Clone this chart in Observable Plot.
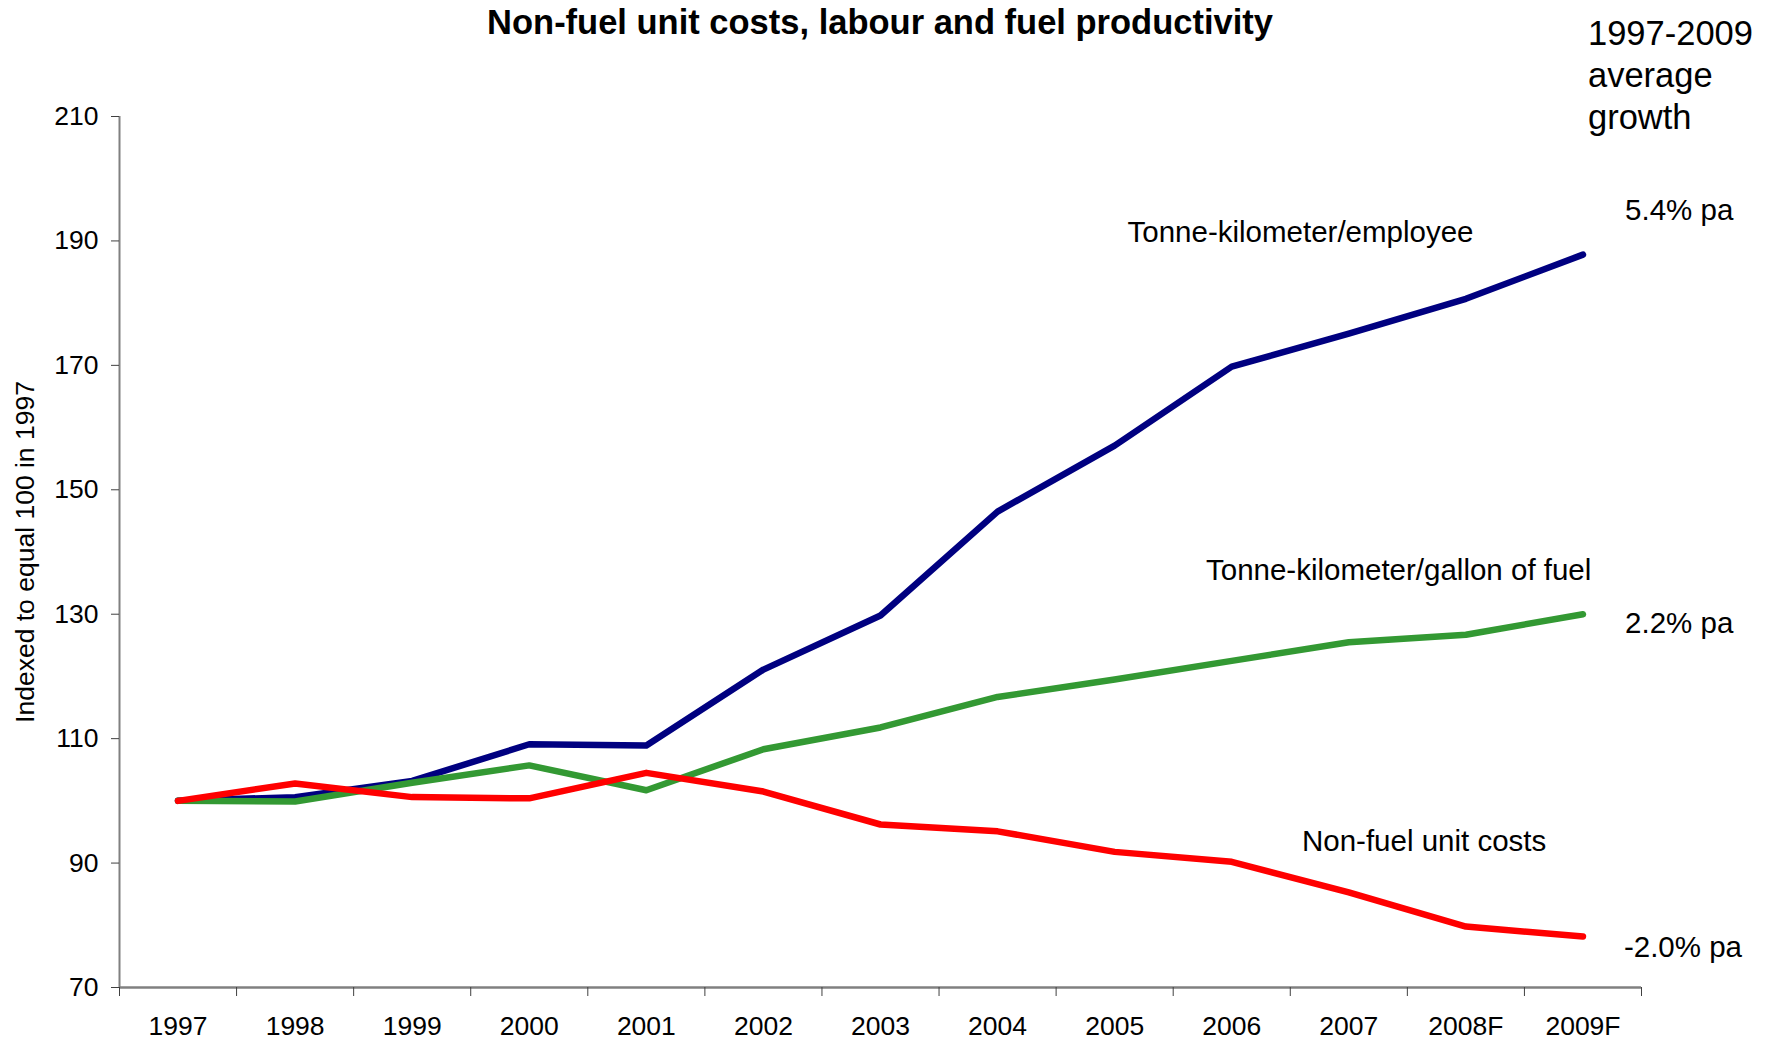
<!DOCTYPE html>
<html>
<head>
<meta charset="utf-8">
<script src="https://cdn.jsdelivr.net/npm/d3@7"></script>
<script src="https://cdn.jsdelivr.net/npm/@observablehq/plot@0.6"></script>
<style>
  html, body { margin: 0; padding: 0; background: #fff; }
  #wrap { position: relative; width: 1772px; height: 1041px; font-family: "Liberation Sans", Arial, sans-serif; }
  #title { position: absolute; left: 880px; top: 2px; transform: translateX(-50%); white-space: nowrap;
           font-size: 34.5px; font-weight: bold; line-height: 40px; color: #000; }
  #note { position: absolute; left: 1588px; top: 12px; font-size: 34.5px; line-height: 42px; color: #000; }
  #chart { position: absolute; left: 0; top: 0; }
</style>
</head>
<body>
<div id="wrap">
  <div id="chart"></div>
  <div id="title"></div>
  <div id="note"></div>
</div>
<script>
// ---- Data ----
const years = ["1997","1998","1999","2000","2001","2002","2003","2004","2005","2006","2007","2008F","2009F"];
const tkmPerEmployee = [100, 100.6, 103.2, 109.1, 108.9, 121.1, 129.8, 146.5, 157.1, 169.8, 175.1, 180.7, 187.8];
const tkmPerGallon   = [100, 99.9, 102.9, 105.7, 101.7, 108.3, 111.8, 116.7, 119.5, 122.5, 125.5, 126.7, 130.0];
const nonFuelCosts   = [100, 102.8, 100.6, 100.4, 104.5, 101.5, 96.2, 95.1, 91.8, 90.2, 85.3, 79.8, 78.2];

const seriesNames  = ["Tonne-kilometer/employee", "Tonne-kilometer/gallon of fuel", "Non-fuel unit costs"];
const seriesColors = ["#000080", "#339933", "#FF0000"];
const yTicks = [70, 90, 110, 130, 150, 170, 190, 210];

const titleText = "Non-fuel unit costs, labour and fuel productivity";
const noteLines = ["1997-2009", "average", "growth"];
const yLabel = "Indexed to equal 100 in 1997";

// Annotations (text, x in category-index units, y in index value)
const seriesLabels = [
  {text: "Tonne-kilometer/employee", x: 8.61, y: 191.4},
  {text: "Tonne-kilometer/gallon of fuel", x: 9.28, y: 137.0},
  {text: "Non-fuel unit costs", x: 10.10, y: 93.4}
];
const growthLabels = [
  {text: "5.4% pa", x: 12.86, y: 194.9},
  {text: "2.2% pa", x: 12.86, y: 128.5},
  {text: "-2.0% pa", x: 12.85, y: 76.4}
];

// ---- Build table ----
const allSeries = [tkmPerEmployee, tkmPerGallon, nonFuelCosts];
const rows = [];
allSeries.forEach((vals, s) => vals.forEach((v, i) => rows.push({series: seriesNames[s], i, year: years[i], value: v})));

const font = '"Liberation Sans", Arial, sans-serif';

const chart = Plot.plot({
  width: 1772,
  height: 1041,
  marginLeft: 119,
  marginRight: 131,
  marginTop: 116,
  marginBottom: 54,
  style: {fontFamily: font, background: "white", color: "black"},
  x: {domain: [0, years.length], label: null, axis: null},
  y: {domain: [70, 210], label: null, axis: null},
  color: {domain: seriesNames, range: seriesColors},
  marks: [
    // axis lines
    Plot.ruleX([0], {stroke: "#808080", strokeWidth: 2}),
    Plot.ruleY([70], {stroke: "#808080", strokeWidth: 2.5}),
    // y axis
    Plot.axisY({ticks: yTicks, tickSize: 8, tickPadding: 13, fontSize: 26.5, stroke: "#404040", fill: "black", label: null}),
    // x axis: boundary ticks and centered labels
    Plot.axisX({ticks: d3.range(years.length + 1), tickSize: 9, tickFormat: () => "", stroke: "#404040", label: null}),
    Plot.axisX({ticks: d3.range(years.length).map(i => i + 0.5), tickSize: 0, tickPadding: 29,
                tickFormat: v => years[Math.floor(v)], fontSize: 26.5, fill: "black", label: null}),
    // y label
    Plot.text([yLabel], {frameAnchor: "left", textAnchor: "middle", rotate: -90, dx: -94, fontSize: 26.5, fill: "black", text: d => d}),
    // lines
    Plot.line(rows, {x: d => d.i + 0.5, y: "value", z: "series", stroke: "series",
                     strokeWidth: 6.5, strokeLinejoin: "round", strokeLinecap: "round"}),
    // annotations
    Plot.text(seriesLabels, {x: "x", y: "y", text: "text", textAnchor: "start", fontSize: 29.5, fill: "black"}),
    Plot.text(growthLabels, {x: "x", y: "y", text: "text", textAnchor: "start", fontSize: 29.5, fill: "black"})
  ]
});
document.getElementById("chart").appendChild(chart);
document.getElementById("title").textContent = titleText;
document.getElementById("note").innerHTML = noteLines.map(s => `<div>${s}</div>`).join("");
</script>
</body>
</html>
